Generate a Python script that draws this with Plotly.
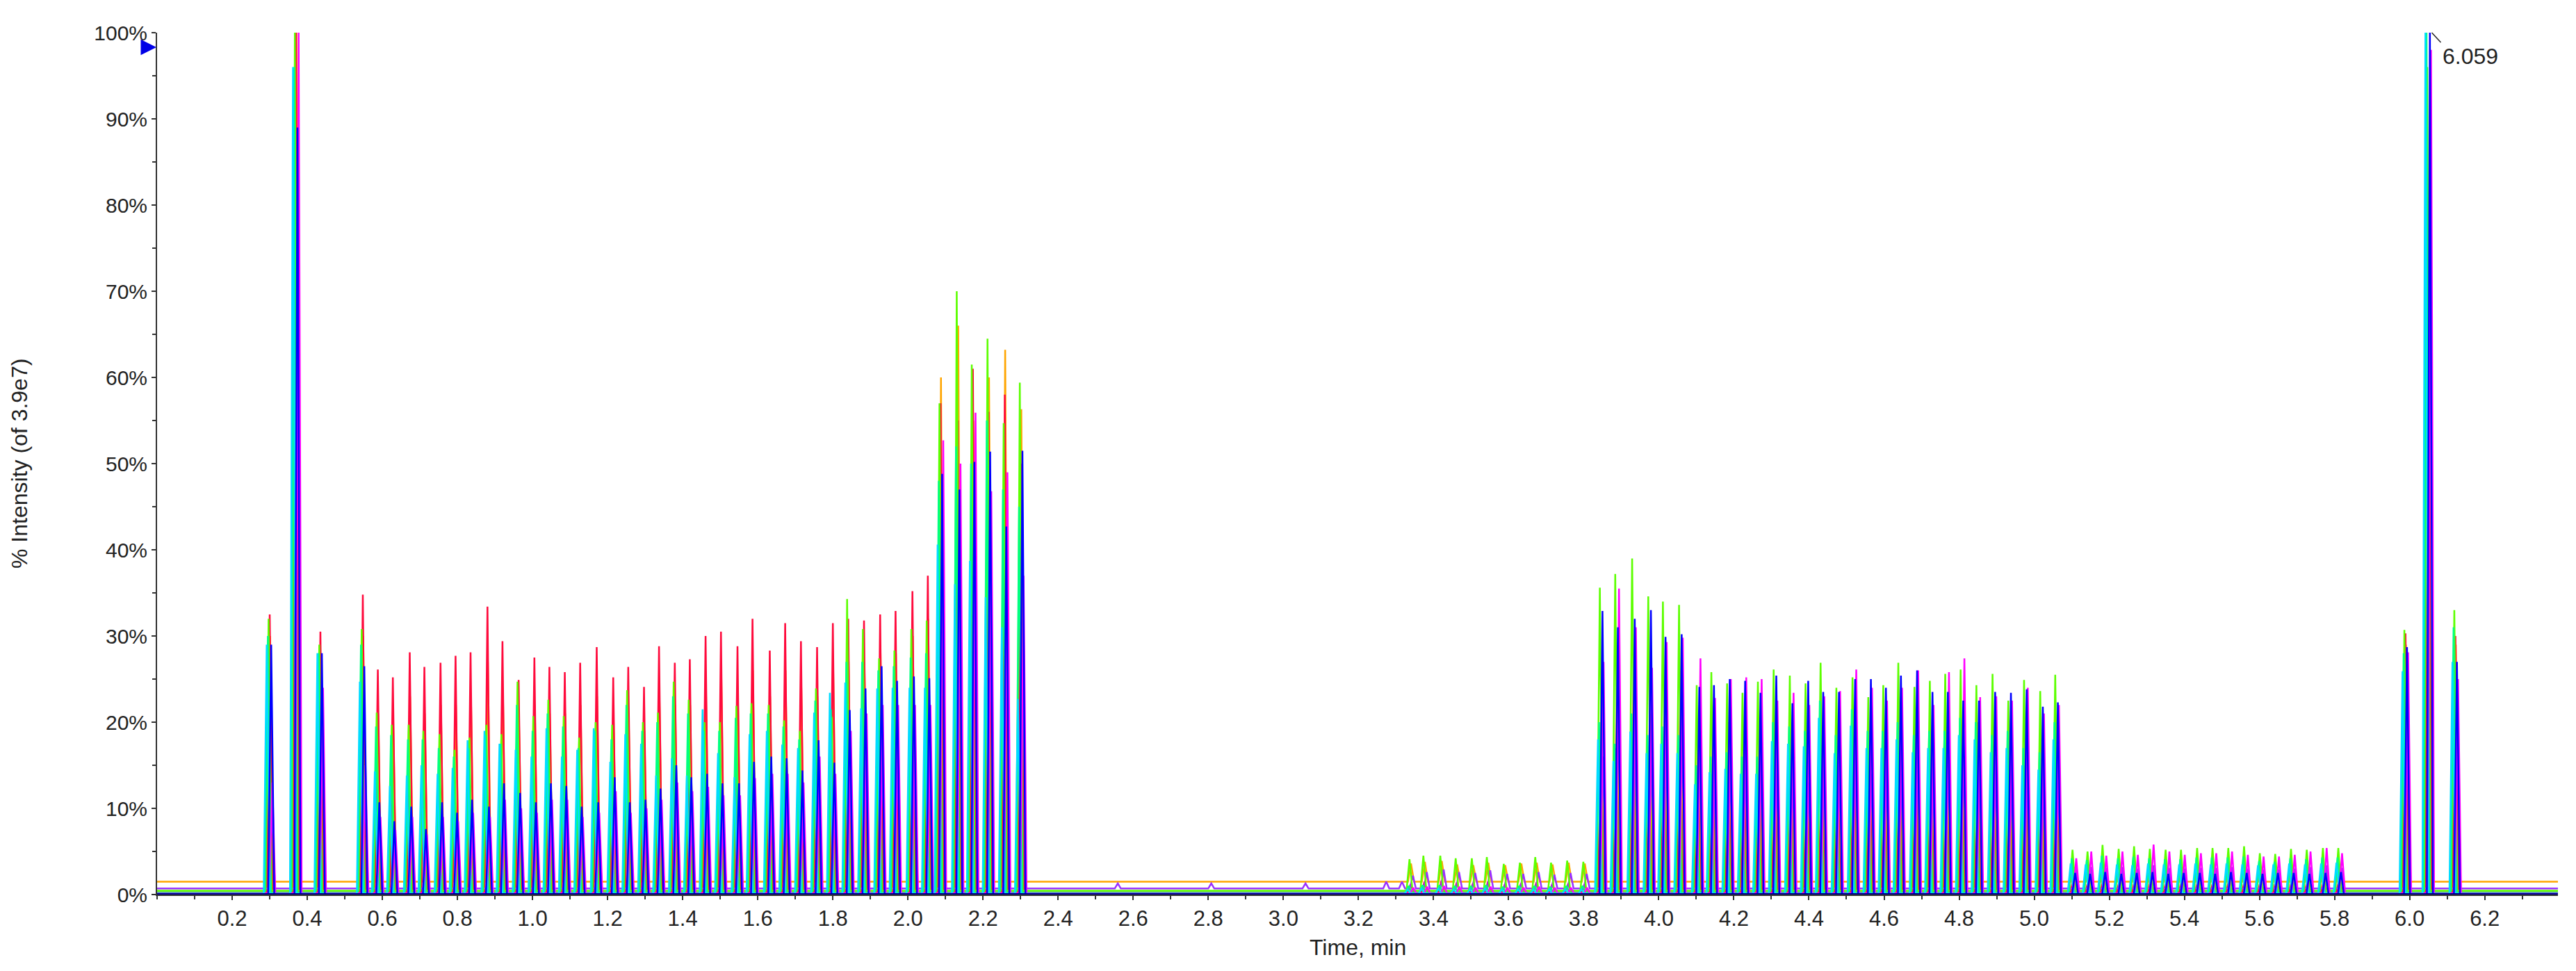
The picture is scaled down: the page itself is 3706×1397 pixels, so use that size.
import plotly.graph_objects as go

# apex times of the peak trains (min), chronological
peak_times = [
    # 0.30 - 0.44
    0.300, 0.370, 0.435,
    # 0.55 - 2.30
    0.548, 0.588, 0.628, 0.673, 0.712, 0.755, 0.795, 0.835, 0.880, 0.920,
    0.963, 1.005, 1.045, 1.086, 1.127, 1.171, 1.215, 1.255, 1.297, 1.337,
    1.379, 1.419, 1.461, 1.502, 1.546, 1.586, 1.632, 1.673, 1.715, 1.758,
    1.800, 1.841, 1.883, 1.926, 1.967, 2.012, 2.053, 2.087, 2.133, 2.173,
    2.215, 2.258, 2.301,
    # 3.34 - 3.80 small ones
    3.339, 3.376, 3.421, 3.462, 3.505, 3.545, 3.590, 3.633, 3.674, 3.716,
    3.759, 3.802,
    # 3.85 - 5.06
    3.846, 3.887, 3.932, 3.975, 4.014, 4.057, 4.104, 4.143, 4.185, 4.226,
    4.267, 4.309, 4.352, 4.394, 4.434, 4.476, 4.519, 4.561, 4.601, 4.641,
    4.684, 4.725, 4.766, 4.807, 4.849, 4.892, 4.934, 4.976, 5.019, 5.059,
    # 5.10 - 5.82 small ones
    5.105, 5.145, 5.185, 5.228, 5.269, 5.311, 5.353, 5.394, 5.437, 5.478,
    5.520, 5.562, 5.604, 5.645, 5.687, 5.729, 5.772, 5.813,
    # 6.0 group
    5.989, 6.050, 6.122,
]

red_heights = [
    32.5, 100, 30.5,
    34.8, 26.1, 25.2, 28.1, 26.4, 26.9, 27.7, 28.1, 33.4, 29.4,
    24.9, 27.5, 26.4, 25.8, 26.9, 28.7, 25.2, 26.4, 24.1, 28.8,
    26.9, 27.3, 30.0, 30.5, 28.8, 32.0, 28.3, 31.5, 29.4, 28.7,
    31.5, 32.0, 31.8, 32.5, 32.9, 35.2, 37.0, 57.0, 55.0, 61.0,
    56.0, 58.0, 50.0,
    1.2, 1.5, 1.6, 1.4, 1.3, 1.5, 1.2, 1.3, 1.4, 1.2, 1.3, 1.2,
    16, 17, 18, 15, 17, 17, 15, 14, 15, 16,
    14, 15, 14, 15, 15, 14, 15, 15, 14, 14,
    15, 15, 14, 15, 15, 14, 14, 15, 14, 14,
    2.0, 1.9, 2.1, 1.9, 2.0, 2.1, 1.9, 2.0, 2.0, 1.9, 2.1, 2.0, 1.9, 2.0,
    2.0, 1.9, 2.0, 2.1,
    30.3, 75, 30,
]

orange_heights = [
    30, 100, 28,
    30, 21, 20, 23, 21, 22, 22, 23, 27, 24,
    20, 22, 21, 21, 22, 23, 20, 21, 19, 23,
    22, 22, 24, 25, 23, 26, 23, 26, 24, 23,
    26, 27, 27, 28, 28, 30, 32, 60, 66, 55,
    60, 63.2, 56.3,
    3.6, 3.8, 3.9, 3.5, 3.4, 3.7, 3.4, 3.6, 3.7, 3.5, 3.7, 3.6,
    22, 24, 26, 21, 22, 26, 20, 19, 20, 18,
    19, 20, 19, 18, 19, 18, 20, 19, 18, 19,
    20, 19, 18, 19, 20, 19, 18, 19, 18, 19,
    3.2, 3.1, 3.3, 3.1, 3.2, 3.3, 3.1, 3.2, 3.2, 3.1, 3.3, 3.2, 3.1, 3.2,
    3.2, 3.1, 3.2, 3.3,
    29, 60, 29,
]

lime_heights = [
    32, 100, 29,
    30.8, 21.1, 19.7, 19.7, 19.0, 18.6, 16.8, 18.2, 19.7, 18.6,
    24.7, 20.7, 22.6, 20.7, 18.2, 20.0, 19.7, 23.7, 20.0, 21.1,
    24.7, 22.6, 20.0, 20.0, 21.9, 22.2, 22.0, 20.2, 19.0, 23.9,
    20.6, 34.3, 30.8, 27.4, 28.3, 30.8, 31.8, 57.0, 70.0, 61.5,
    64.5, 54.7, 59.4,
    4.1, 4.5, 4.5, 4.2, 4.2, 4.35, 3.55, 3.7, 4.35, 3.7, 3.95, 3.8,
    35.6, 37.2, 39.0, 34.6, 34.0, 33.6, 24.3, 25.8, 24.5, 23.4,
    24.7, 26.1, 25.4, 24.5, 26.9, 24.0, 25.2, 22.9, 24.3, 26.9,
    24.1, 24.8, 25.6, 26.1, 24.3, 25.6, 22.5, 24.9, 23.6, 25.5,
    5.2, 5.0, 5.75, 5.3, 5.6, 5.3, 5.2, 5.2, 5.4, 5.4, 5.4, 5.6, 4.8, 4.7,
    5.3, 5.2, 5.4, 5.4,
    30.7, 96, 33,
]

spring_heights = [
    30, 96, 28,
    29.0, 19.5, 18.5, 18.0, 18.0, 17.0, 16.0, 17.0, 18.5, 17.5,
    22.0, 19.0, 21.0, 19.5, 17.0, 19.0, 18.0, 22.0, 19.0, 20.0,
    23.0, 21.0, 19.0, 19.0, 20.5, 21.0, 21.0, 19.5, 18.0, 22.5,
    21.5, 27.0, 27.0, 26.0, 26.5, 27.5, 28.0, 48.0, 52.0, 50.0,
    55.0, 47.0, 45.0,
    1.0, 1.1, 1.1, 1.0, 1.0, 1.1, 0.9, 1.0, 1.0, 0.9, 1.0, 1.0,
    20, 17.5, 21, 18.5, 19.5, 18.5, 15, 16, 16.5, 16,
    16, 20, 19.5, 19, 22.5, 18.5, 21.5, 19, 19, 20,
    18.5, 19, 19, 20.5, 20, 18.5, 19, 17, 16.5, 20,
    4.2, 4.0, 4.5, 4.2, 4.4, 4.2, 4.1, 4.1, 4.3, 4.3, 4.3, 4.4, 3.9, 3.8,
    4.2, 4.1, 4.3, 4.3,
    28, 100, 31,
]

cyan_heights = [
    29, 96, 28,
    24.7, 14.3, 12.6, 13.8, 15.0, 14.0, 14.7, 17.9, 19.0, 17.5,
    16.8, 16.0, 19.3, 16.0, 16.8, 19.3, 15.4, 18.6, 17.5, 13.8,
    15.8, 13.8, 21.5, 16.4, 13.6, 18.6, 19.0, 17.4, 17.0, 21.1,
    23.4, 24.6, 21.6, 23.9, 24.0, 24.0, 24.0, 40.6, 36.0, 38.7,
    34.5, 31.0, 22.7,
    0.6, 0.7, 0.7, 0.6, 0.6, 0.7, 0.6, 0.6, 0.6, 0.6, 0.6, 0.6,
    18.0, 15.5, 18.9, 16.4, 17.5, 16.4, 12.8, 14.2, 14.6, 14.0,
    14.0, 17.8, 17.5, 17.2, 20.5, 16.4, 19.6, 17.0, 17.0, 18.0,
    16.5, 17.0, 17.0, 18.5, 18.0, 16.5, 17.0, 15.0, 14.5, 18.0,
    3.6, 3.5, 3.7, 3.5, 3.4, 3.6, 3.5, 3.5, 3.6, 3.5, 3.6, 3.5, 3.4, 3.5,
    3.6, 3.5, 3.6, 3.7,
    25.9, 100, 27,
]

blue_heights = [
    29, 89, 28,
    26.5, 10.7, 8.5, 10.2, 7.6, 10.7, 9.5, 11.0, 10.2, 12.9,
    11.8, 10.7, 12.9, 12.6, 10.2, 10.7, 13.6, 10.7, 11.0, 12.3,
    15.0, 13.6, 14.0, 12.9, 12.9, 15.4, 16.0, 15.8, 14.4, 17.9,
    15.3, 21.4, 23.9, 26.5, 24.8, 25.3, 25.1, 48.8, 47.0, 50.2,
    51.4, 42.7, 51.5,
    0, 0, 0, 0, 0, 0, 0, 0, 0, 0, 0, 0,
    32.9, 31.0, 32.0, 33.0, 29.9, 30.2, 24.1, 24.3, 25.0, 24.8,
    23.4, 25.4, 22.2, 24.8, 23.5, 23.5, 25.0, 25.0, 24.0, 25.4,
    26.0, 23.5, 23.5, 22.5, 22.5, 23.5, 23.4, 23.8, 21.8, 22.3,
    2.5, 2.4, 2.6, 2.4, 2.5, 2.6, 2.4, 2.5, 2.5, 2.4, 2.6, 2.5, 2.4, 2.5,
    2.5, 2.4, 2.5, 2.6,
    28.7, 100, 27,
]

magenta_heights = [
    13, 100, 24,
    15, 9, 7.5, 9, 7, 9, 8.5, 9.5, 9, 11,
    10, 9.5, 11, 11, 9, 9.5, 12, 9.5, 10, 11,
    13, 12, 12.5, 11.5, 11.5, 13.5, 14, 14, 13, 16,
    14, 19, 21, 22, 22, 22, 22, 52.7, 50, 55.9,
    46.8, 49, 37,
    0.8, 0.9, 1.0, 0.9, 0.8, 0.9, 0.8, 0.8, 0.9, 0.8, 0.8, 0.8,
    27.0, 35.5, 31.0, 26.3, 29.3, 29.8, 27.4, 22.8, 25.0, 25.2,
    25.0, 22.5, 23.4, 22.0, 23.0, 23.6, 26.1, 24.0, 22.5, 24.0,
    26.0, 22.0, 25.8, 27.4, 22.9, 23.0, 22.5, 24.0, 21.0, 22.0,
    4.2, 5.0, 4.5, 5.0, 4.6, 5.8, 5.0, 4.6, 4.8, 4.8, 5.0, 4.6, 4.4, 4.4,
    4.6, 5.0, 5.4, 4.8,
    28.1, 98, 25,
]

purple_heights = [
    10, 80, 20,
    12, 6, 5, 6, 5, 6, 6, 7, 6, 8,
    7, 7, 8, 8, 7, 7, 8, 7, 7, 8,
    9, 8, 9, 8, 8, 9, 10, 10, 9, 11,
    10, 13, 15, 16, 16, 16, 16, 38, 36, 40,
    34, 35, 27,
    2.2, 2.6, 2.9, 2.6, 2.5, 2.8, 2.4, 2.4, 2.6, 2.3, 2.5, 2.4,
    16, 21, 18, 16, 17, 18, 16, 14, 15, 15,
    15, 14, 14, 13, 14, 14, 16, 14, 14, 14,
    16, 13, 15, 16, 14, 14, 13, 14, 13, 13,
    3.0, 3.2, 3.1, 3.2, 3.0, 3.4, 3.1, 3.0, 3.1, 3.1, 3.2, 3.0, 2.9, 2.9,
    3.0, 3.2, 3.4, 3.1,
    20, 90, 20,
]

# little bumps on the purple trace in the quiet stretch
purple_bump_times = [2.553, 2.802, 3.053, 3.268, 3.310]
purple_bump_heights = [1.3, 1.3, 1.3, 1.5, 1.5]

# baseline level of each trace (%)
baselines = dict(orange=1.5, red=0.25, lime=0.45, spring=0.2, cyan=0.1,
                 blue=0.05, magenta=0.15, purple=0.7, navy=0.0)

x_tick_vals = [0.2, 0.4, 0.6, 0.8, 1.0, 1.2, 1.4, 1.6, 1.8, 2.0, 2.2, 2.4,
               2.6, 2.8, 3.0, 3.2, 3.4, 3.6, 3.8, 4.0, 4.2, 4.4, 4.6, 4.8,
               5.0, 5.2, 5.4, 5.6, 5.8, 6.0, 6.2]

apex_label_time = 6.059
apex_label_y = 100
marker_level = 98.3   # y of the blue arrow on the axis
x_max = 6.395

FONT = "Liberation Sans, Arial, Helvetica, sans-serif"
HALF_WIDTH = 0.008


def spikes(times, heights, base, shift):
    # turn apex list into a thin spike line sitting on the baseline
    xs, ys = [0.0], [base]
    for t, h in sorted(zip(times, heights)):
        if h <= base:
            continue
        xs += [t + shift - HALF_WIDTH, t + shift, t + shift + HALF_WIDTH]
        ys += [base, h, base]
    xs.append(x_max)
    ys.append(base)
    return xs, ys


# name, heights, colour, time shift (draw order = list order)
series = [
    ('orange', orange_heights, '#ffa500', 0.001),
    ('red', red_heights, '#ff0a3c', 0.000),
    ('purple', purple_heights, '#9b30ff', 0.006),
    ('lime', lime_heights, '#5cff00', -0.003),
    ('spring', spring_heights, '#00ff80', -0.005),
    ('magenta', magenta_heights, '#ff00ff', 0.007),
    ('cyan', cyan_heights, '#00dcff', -0.008),
    ('blue', blue_heights, '#0000ff', 0.004),
]

for name, h, _, _ in series:
    assert len(h) == len(peak_times), name

fig = go.Figure()

for name, heights, color, shift in series:
    times = list(peak_times)
    hs = list(heights)
    if name == 'purple':
        times += purple_bump_times
        hs += purple_bump_heights
    xs, ys = spikes(times, hs, baselines[name], shift)
    fig.add_trace(go.Scatter(x=xs, y=ys, mode='lines', name=name,
                             line=dict(color=color, width=2.5),
                             hoverinfo='skip'))

# dark baseline trace
fig.add_trace(go.Scatter(x=[0, x_max], y=[baselines['navy']] * 2, mode='lines',
                         line=dict(color='#00008b', width=4), hoverinfo='skip'))

# blue arrow on the y axis
fig.add_annotation(xref='paper', yref='y', x=0, y=marker_level, text='',
                   showarrow=True, arrowhead=2, arrowsize=1, arrowwidth=4.5,
                   arrowcolor='#0000e6', ax=-14, ay=0, standoff=1)

fig.add_annotation(x=apex_label_time, y=apex_label_y, text=f"{apex_label_time:.3f}",
                   showarrow=True, arrowhead=0, arrowwidth=1.5, arrowcolor='#222',
                   ax=13, ay=14, xanchor='left', yanchor='top',
                   font=dict(family=FONT, size=32, color='#222'))

# axis titles placed by hand
fig.add_annotation(xref='paper', yref='paper', x=0.5, y=0, yshift=-76,
                   text='Time, min', showarrow=False, yanchor='middle',
                   font=dict(family=FONT, size=32, color='#222'))
fig.add_annotation(xref='paper', yref='paper', x=0, y=0.5, xshift=-198,
                   text='% Intensity (of 3.9e7)', showarrow=False, textangle=-90,
                   xanchor='center', yanchor='middle',
                   font=dict(family=FONT, size=32, color='#222'))

fig.update_xaxes(range=[0, x_max], tickmode='array', tickvals=x_tick_vals,
                 tickformat='.1f', ticks='outside', ticklen=6, tickwidth=2,
                 tickcolor='#333', showline=True, linecolor='#333', linewidth=2,
                 showgrid=False, zeroline=False,
                 minor=dict(dtick=0.1, tick0=0, ticks='outside', ticklen=5,
                            tickwidth=2, tickcolor='#333'),
                 tickfont=dict(family=FONT, size=31, color='#222'))
fig.update_yaxes(range=[0, 100], dtick=10, ticksuffix='%', ticks='outside',
                 ticklen=6, tickwidth=2, tickcolor='#333', showline=True,
                 linecolor='#333', linewidth=2, showgrid=False, zeroline=False,
                 minor=dict(dtick=5, ticks='outside', ticklen=5, tickwidth=2,
                            tickcolor='#333'),
                 tickfont=dict(family=FONT, size=30, color='#222'))

fig.update_layout(width=3706, height=1397, showlegend=False,
                  plot_bgcolor='white', paper_bgcolor='white',
                  margin=dict(l=226, r=26, t=47, b=110))

fig.write_html("out.html", config={'displayModeBar': False},
               post_script="document.body.style.margin='0px';")
